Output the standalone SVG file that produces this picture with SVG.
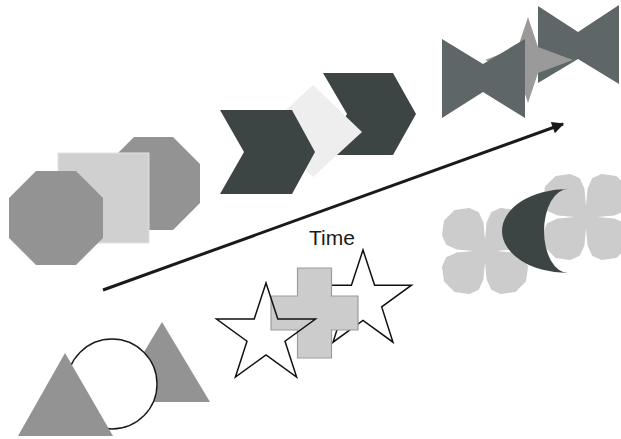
<svg xmlns="http://www.w3.org/2000/svg" xmlns:xlink="http://www.w3.org/1999/xlink" width="621" height="439" viewBox="0 0 621 439">
<style>
.oct{fill:#939393}
.sq{fill:#d0d0d0;stroke:#e2e2e2;stroke-width:1}
.chev{fill:#3d4544}
.dia{fill:#eeeeee}
.bow{fill:#5e6668}
.star4{fill:#9a9a9a}
.flower{fill:#cccccc;stroke:#cccccc;stroke-width:2;stroke-linejoin:round}
.moon{fill:#3d4544}
.star5{stroke:#111;stroke-width:1.5;stroke-linejoin:miter}
.cross{fill:#cccccc;stroke:#9c9c9c;stroke-width:1.2}
.tri{fill:#939393}
.circ{fill:#fff;stroke:#1a1a1a;stroke-width:1.4}
.lbl{font-family:"Liberation Sans",Arial,sans-serif;font-size:21px;fill:#1a1a1a}
</style>
<defs>
<marker id="ah" viewBox="0 0 10 10" refX="9" refY="5" markerWidth="6" markerHeight="4" markerUnits="strokeWidth" orient="auto">
<path d="M0,0 L10,5 L0,10 Z" fill="#1a1a1a"/>
</marker>
<polygon id="petal" points="0,0 2.5,-28 7,-38 16,-42 30,-40 40,-30 42,-16 38,-7 28,-2.5"/>
<g id="flowerShape">
<use xlink:href="#petal"/>
<use xlink:href="#petal" transform="rotate(90)"/>
<use xlink:href="#petal" transform="rotate(180)"/>
<use xlink:href="#petal" transform="rotate(270)"/>
</g>
</defs>
<rect width="621" height="439" fill="#fff"/>

<g id="octagon-right"><polygon class="oct" points="134,137 173,137 200,164 200,203 173,230 134,230 107,203 107,164"/></g>
<g id="square"><rect class="sq" x="58" y="153" width="91" height="90"/></g>
<g id="octagon-left"><polygon class="oct" points="36,171 76,171 103,198 103,238 76,265 36,265 9,238 9,198"/></g>

<g id="chevron-right"><polygon class="chev" points="323,73 393,73 416,114 393,155 323,155 347,114"/></g>
<g id="diamond"><polygon class="dia" points="313,85 362,132 313,177 264,130"/></g>
<g id="chevron-left"><polygon class="chev" points="220,110 292,110 315,152 292,194 220,194 244,152"/></g>

<g id="bowtie-right"><polygon class="bow" points="538,6 578,32 619,5 619,84 578,59 538,83"/></g>
<g id="star4"><polygon class="star4" points="528,17 538,47 573,60 538,73 528,103 518,73 485,60 518,47"/></g>
<g id="bowtie-left"><polygon class="bow" points="442,39 483,64 525,39 525,118 483,92 442,118"/></g>

<g id="flower-left" class="flower"><use xlink:href="#flowerShape" transform="translate(485,251)"/></g>
<g id="flower-right" class="flower"><use xlink:href="#flowerShape" transform="translate(586,217)"/></g>
<g id="crescent"><path class="moon" d="M568,189 A66,42 0 0,0 568,273 A24,42 0 0,1 568,189 Z"/></g>

<g id="star-right"><polygon class="star5" fill="#fff" points="363,250 374.6,285.2 411.5,285.2 381.7,306.9 393,342.2 363,320.5 333,342.2 344.3,306.9 314.5,285.2 351.4,285.2"/></g>
<g id="cross"><polygon class="cross" points="297.5,268 331.5,268 331.5,296 358,296 358,330 331.5,330 331.5,358 297.5,358 297.5,330 271,330 271,296 297.5,296"/></g>
<g id="star-left"><polygon class="star5" fill="none" points="266,283 277.8,319 315.5,319 285,341.2 296.6,377 266,354.9 235.4,377 247,341.2 216.5,319 254.2,319"/></g>

<g id="triangle-right"><polygon class="tri" points="162,322 210,402 114,402"/></g>
<g id="circle"><circle class="circ" cx="112" cy="384" r="45"/></g>
<g id="triangle-left"><polygon class="tri" points="65,353 113,436 18,436"/></g>

<g id="connectors">
<line x1="103" y1="290" x2="563" y2="124" stroke="#1a1a1a" stroke-width="3" marker-end="url(#ah)"/>
</g>
<g id="label-time"><text class="lbl" x="309" y="245">Time</text></g>
</svg>
